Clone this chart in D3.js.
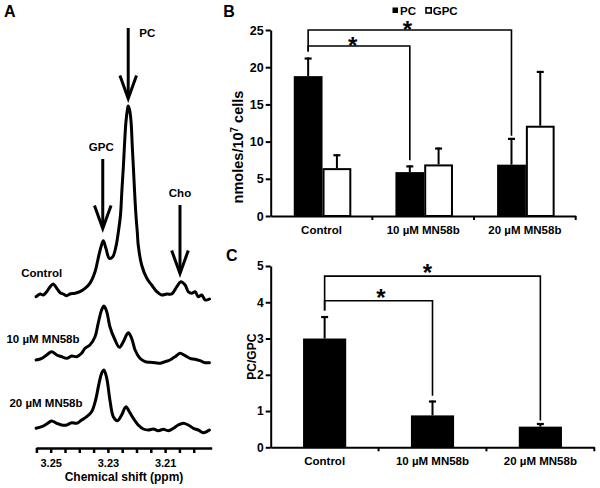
<!DOCTYPE html>
<html><head><meta charset="utf-8">
<script src="https://cdn.jsdelivr.net/npm/d3@7"></script>
<style>
body{margin:0;background:#fff}
text{font-family:"Liberation Sans",Arial,sans-serif;font-weight:bold;fill:#000}
</style>
</head><body><svg id="c" width="600" height="488"></svg>
<script>
// ---------- DATA ----------
// Panel A: 1H NMR spectra (ppm vs. intensity, arbitrary units)
const specLabels = ["Control", "10 µM MN58b", "20 µM MN58b"];
const ppmControl = [3.2551,3.2537,3.2526,3.2514,3.2502,3.2491,3.2479,3.2467,3.2456,3.2444,
  3.2433,3.2415,3.2398,3.2380,3.2363,3.2345,3.2334,3.2324,3.2316,3.2307,
  3.2295,3.2283,3.2272,3.2264,3.2256,3.2251,3.2246,3.2242,3.2237,3.2232,
  3.2229,3.2224,3.2219,3.2215,3.2211,3.2207,3.2202,3.2197,3.2194,3.2182,
  3.2164,3.2147,3.2129,3.2112,3.2094,3.2077,3.2059,3.2045,3.2030,3.2019,
  3.2007,3.1995,3.1984,3.1972,3.1960,3.1945];
const intControl = [3.3,6,5,8.3,13.3,16,11.7,7.3,6,4.3,
  6,6.7,8.3,11.7,16.7,28.3,41.7,53.3,59.3,51.7,
  41.7,43.3,53.3,67,85,110,133,155,178,190,
  194,190,178,155,133,110,85,67,55,35,
  21.7,15,8.3,5,6,6,13.3,18.3,15,8.3,
  6.7,8.3,3.3,5,0,1];
const ppm10 = [3.2551,3.2531,3.2514,3.2497,3.2479,3.2462,3.2444,3.2427,3.2409,3.2392,
  3.2380,3.2363,3.2345,3.2334,3.2322,3.2314,3.2304,3.2293,3.2275,3.2260,
  3.2246,3.2229,3.2217,3.2205,3.2188,3.2170,3.2153,3.2135,3.2118,3.2100,
  3.2083,3.2065,3.2048,3.2030,3.2013,3.1995,3.1978,3.1960,3.1945];
const int10 = [5,6.7,10,13.3,10,8.3,6.7,9,8.3,11.7,
  16.7,20,28.3,41.7,55,59,53.3,38.3,25,17.7,
  23.3,32.3,26.7,15,6.7,3.3,2.7,2.3,1.7,3.3,
  5,8.3,11.7,9.3,6.7,5.7,4.3,2.3,2.3];
const ppm20 = [3.2551,3.2531,3.2514,3.2497,3.2479,3.2462,3.2444,3.2427,3.2409,3.2392,
  3.2374,3.2357,3.2343,3.2331,3.2322,3.2314,3.2304,3.2293,3.2281,3.2267,
  3.2252,3.2237,3.2225,3.2211,3.2194,3.2176,3.2159,3.2141,3.2124,3.2106,
  3.2089,3.2071,3.2054,3.2036,3.2019,3.2001,3.1984,3.1966,3.1945];
const int20 = [4.7,6.3,9,12,9.7,8,8,10.3,9.7,13,
  16.3,21.3,33,49.7,59.7,63,54.7,33,16.3,12.3,
  18,26.3,21.3,14.7,8,4,3,4,2.3,3.7,
  2.3,4.7,8,9.7,8,4.7,3,0.3,3];
const peakNames = ["PC", "GPC", "Cho"];
const peakPpm = [3.2229, 3.2318, 3.2048];
const aTicks = [3.255,3.25,3.245,3.24,3.235,3.23,3.225,3.22,3.215,3.21,3.205,3.20];
const aTickLabels = [3.25, 3.23, 3.21];

// Panel B: nmoles/10^7 cells
const groups = ["Control", "10 µM MN58b", "20 µM MN58b"];
const pcMean = [18.8, 5.9, 6.9];
const pcSD = [2.5, 0.9, 3.6];
const gpcMean = [6.3, 6.8, 12.0];
const gpcSD = [2.0, 2.4, 7.5];
const bTicks = [0, 5, 10, 15, 20, 25];

// Panel C: PC/GPC ratio
const ratioMean = [3.0, 0.88, 0.57];
const ratioSD = [0.62, 0.41, 0.10];
const cTicks = [0, 1, 2, 3, 4, 5];

// ---------- DRAW ----------
const svg = d3.select("#c");
svg.append("rect").attr("width", 600).attr("height", 488).attr("fill", "#fff");
const FS = 11.5;
const TFS = 12.5;

function letter(t, x, y) {
  svg.append("text").attr("x", x).attr("y", y).attr("font-size", 16).text(t);
}

// ===== Panel A =====
letter("A", 4, 17.3);
const xA = d3.scaleLinear().domain([3.25514, 3.19371]).range([36, 211.7]);
const yA = d3.scaleLinear().domain([0, 200]).range([0, -200]);
const spectra = [
  {label: specLabels[0], ppm: ppmControl, val: intControl, base: 300, lx: 41.7, ly: 277.3},
  {label: specLabels[1], ppm: ppm10, val: int10, base: 365, lx: 43, ly: 343.3},
  {label: specLabels[2], ppm: ppm20, val: int20, base: 433, lx: 46, ly: 406.7}
];
const lineA = d3.line().x(d => xA(d[0])).y(d => yA(d[1])).curve(d3.curveCatmullRom.alpha(0.5));
spectra.forEach(s => {
  const g = svg.append("g").attr("transform", `translate(0,${s.base})`);
  g.append("path").datum(d3.zip(s.ppm, s.val)).attr("d", lineA)
    .attr("fill", "none").attr("stroke", "#000").attr("stroke-width", 3)
    .attr("stroke-linejoin", "round").attr("stroke-linecap", "round");
  svg.append("text").attr("x", s.lx).attr("y", s.ly).attr("text-anchor", "middle")
    .attr("font-size", FS).text(s.label);
});

// arrows
const arrows = [
  {name: peakNames[0], tail: 28, tip: 98.5, tx: 139.3, ty: 36.7, anchor: "start", dx: 0},
  {name: peakNames[1], tail: 159, tip: 228.5, tx: 0, ty: 150.7, anchor: "middle", dx: -1.5},
  {name: peakNames[2], tail: 205, tip: 273.5, tx: 0, ty: 197.3, anchor: "middle", dx: 0}
];
arrows.forEach((a, i) => {
  const x = xA(peakPpm[i]);
  svg.append("line").attr("x1", x).attr("x2", x).attr("y1", a.tail).attr("y2", a.tip - 1)
    .attr("stroke", "#000").attr("stroke-width", 3);
  svg.append("path").attr("d", `M${x - 8.3},${a.tip - 23}L${x},${a.tip}L${x + 8.3},${a.tip - 23}`)
    .attr("fill", "none").attr("stroke", "#000").attr("stroke-width", 3)
    .attr("stroke-linejoin", "miter");
  svg.append("text").attr("x", a.anchor === "start" ? a.tx : x + a.dx).attr("y", a.ty)
    .attr("text-anchor", a.anchor).attr("font-size", FS).text(a.name);
});

// axis A
const axA = svg.append("g").attr("transform", "translate(0,448)")
  .call(d3.axisBottom(xA).tickValues(aTicks).tickSize(5).tickPadding(6).tickSizeOuter(0)
    .tickFormat(d => aTickLabels.some(v => Math.abs(v - d) < 1e-6) ? d3.format(".2f")(d) : ""));
axA.select(".domain").attr("stroke-width", 2.5);
axA.selectAll(".tick line").attr("stroke-width", 2.5);
axA.selectAll("text").attr("font-size", 11).attr("font-family", null);
svg.append("text").attr("x", 124).attr("y", 480.5).attr("text-anchor", "middle")
  .attr("font-size", 12).text("Chemical shift (ppm)");

// ===== Panel B =====
letter("B", 223.3, 17.3);
const xB = d3.scaleBand().domain(groups).range([270.7, 575.7]);
const yB = d3.scaleLinear().domain([0, 25]).range([216, 30]);
const bwB = xB.bandwidth() * 0.283;
const cB = g => xB(g) + xB.bandwidth() / 2 + 1;

function errBar(x, y0, y1, cap) {
  svg.append("line").attr("x1", x).attr("x2", x).attr("y1", y0).attr("y2", y1)
    .attr("stroke", "#000").attr("stroke-width", 2);
  svg.append("line").attr("x1", x - cap / 2).attr("x2", x + cap / 2).attr("y1", y1 + 1).attr("y2", y1 + 1)
    .attr("stroke", "#000").attr("stroke-width", 2.2);
}

groups.forEach((g, i) => {
  svg.append("rect").attr("x", cB(g) - bwB).attr("y", yB(pcMean[i]))
    .attr("width", bwB).attr("height", yB(0) - yB(pcMean[i])).attr("fill", "#000");
  errBar(cB(g) - bwB / 2, yB(pcMean[i]), yB(pcMean[i] + pcSD[i]), 7);
  svg.append("rect").attr("x", cB(g) + 1).attr("y", yB(gpcMean[i]))
    .attr("width", bwB - 2).attr("height", yB(0) - yB(gpcMean[i]))
    .attr("fill", "#fff").attr("stroke", "#000").attr("stroke-width", 2);
  errBar(cB(g) + bwB / 2, yB(gpcMean[i]) - 1, yB(gpcMean[i] + gpcSD[i]), 7);
});

const ayB = svg.append("g").attr("transform", "translate(270.7,0)")
  .call(d3.axisLeft(yB).tickValues(bTicks).tickSize(5).tickPadding(2).tickSizeOuter(0).tickFormat(d3.format("d")));
ayB.select(".domain").attr("stroke-width", 2);
ayB.selectAll(".tick line").attr("stroke-width", 2);
ayB.selectAll("text").attr("font-size", TFS).attr("font-family", null);

const axB = svg.append("g").attr("transform", "translate(0,216)")
  .call(d3.axisBottom(xB).tickSize(0).tickPadding(10).tickSizeOuter(0));
axB.select(".domain").attr("stroke-width", 2);
axB.selectAll("text").attr("font-size", FS).attr("font-family", null).attr("dy", "0.71em");
groups.forEach(g => {
  const xe = xB(g) + xB.bandwidth();
  svg.append("line").attr("x1", xe).attr("x2", xe).attr("y1", 216).attr("y2", 220)
    .attr("stroke", "#000").attr("stroke-width", 2);
});

// legend
svg.append("rect").attr("x", 392.5).attr("y", 7.5).attr("width", 5.5).attr("height", 5.5).attr("fill", "#000");
svg.append("text").attr("x", 400).attr("y", 14.5).attr("font-size", FS).text("PC");
svg.append("rect").attr("x", 426).attr("y", 7.8).attr("width", 5.2).attr("height", 5.2)
  .attr("fill", "#fff").attr("stroke", "#000").attr("stroke-width", 1.6);
svg.append("text").attr("x", 432.7).attr("y", 14.5).attr("font-size", FS).text("GPC");

// significance brackets B
const pcX = g => cB(g) - bwB / 2;
function bracket(x0, y0, yTop, x1, y1) {
  svg.append("path").attr("d", `M${x0},${y0}V${yTop}H${x1}V${y1}`)
    .attr("fill", "none").attr("stroke", "#000").attr("stroke-width", 1.6);
}
function star(x, y) {
  svg.append("text").attr("x", x).attr("y", y + 13).attr("text-anchor", "middle")
    .attr("font-size", 24).text("*");
}
bracket(pcX(groups[0]), yB(22.1), yB(25), pcX(groups[2]), yB(10.8));
bracket(pcX(groups[0]), yB(22.1), yB(22.85), pcX(groups[1]), yB(7.5));
star(352.7, 40.7);
star(407.3, 25);

// ===== Panel C =====
letter("C", 226, 260.7);
const xC = d3.scaleBand().domain(groups).range([270.7, 594.3]);
const yC = d3.scaleLinear().domain([0, 5]).range([447.3, 266]);
const bwC = xC.bandwidth() * 0.4;
const cC = g => xC(g) + xC.bandwidth() / 2;
groups.forEach((g, i) => {
  svg.append("rect").attr("x", cC(g) - bwC / 2).attr("y", yC(ratioMean[i]))
    .attr("width", bwC).attr("height", yC(0) - yC(ratioMean[i])).attr("fill", "#000");
  errBar(cC(g), yC(ratioMean[i]), yC(ratioMean[i] + ratioSD[i]), 7);
});
const ayC = svg.append("g").attr("transform", "translate(270.7,0)")
  .call(d3.axisLeft(yC).tickValues(cTicks).tickSize(5).tickPadding(2).tickSizeOuter(0).tickFormat(d3.format("d")));
ayC.select(".domain").attr("stroke-width", 2);
ayC.selectAll(".tick line").attr("stroke-width", 2);
ayC.selectAll("text").attr("font-size", 12).attr("font-family", null);
const axC = svg.append("g").attr("transform", "translate(0,447.3)")
  .call(d3.axisBottom(xC).tickSize(0).tickPadding(10).tickSizeOuter(0));
axC.select(".domain").attr("stroke-width", 2);
axC.selectAll("text").attr("font-size", FS).attr("font-family", null).attr("dy", "0.71em");
groups.forEach(g => {
  const xe = xC(g) + xC.bandwidth();
  svg.append("line").attr("x1", xe).attr("x2", xe).attr("y1", 447.3).attr("y2", 451.3)
    .attr("stroke", "#000").attr("stroke-width", 2);
});
bracket(cC(groups[0]), yC(3.77), yC(4.72), cC(groups[2]), yC(0.74));
bracket(cC(groups[0]), yC(3.77), yC(4.04), cC(groups[1]), yC(1.42));
star(381, 293.3);
star(427.3, 268.3);

// axis titles
const tB = svg.append("text").attr("transform", "translate(243,147) rotate(-90)")
  .attr("text-anchor", "middle").attr("font-size", 14.5);
tB.append("tspan").text("nmoles/10");
tB.append("tspan").attr("dy", -5.5).attr("font-size", 10).text("7");
tB.append("tspan").attr("dy", 5.5).text(" cells");
svg.append("text").attr("transform", "translate(255.5,356.7) rotate(-90)")
  .attr("text-anchor", "middle").attr("font-size", 12).text("PC/GPC");
</script></body></html>
